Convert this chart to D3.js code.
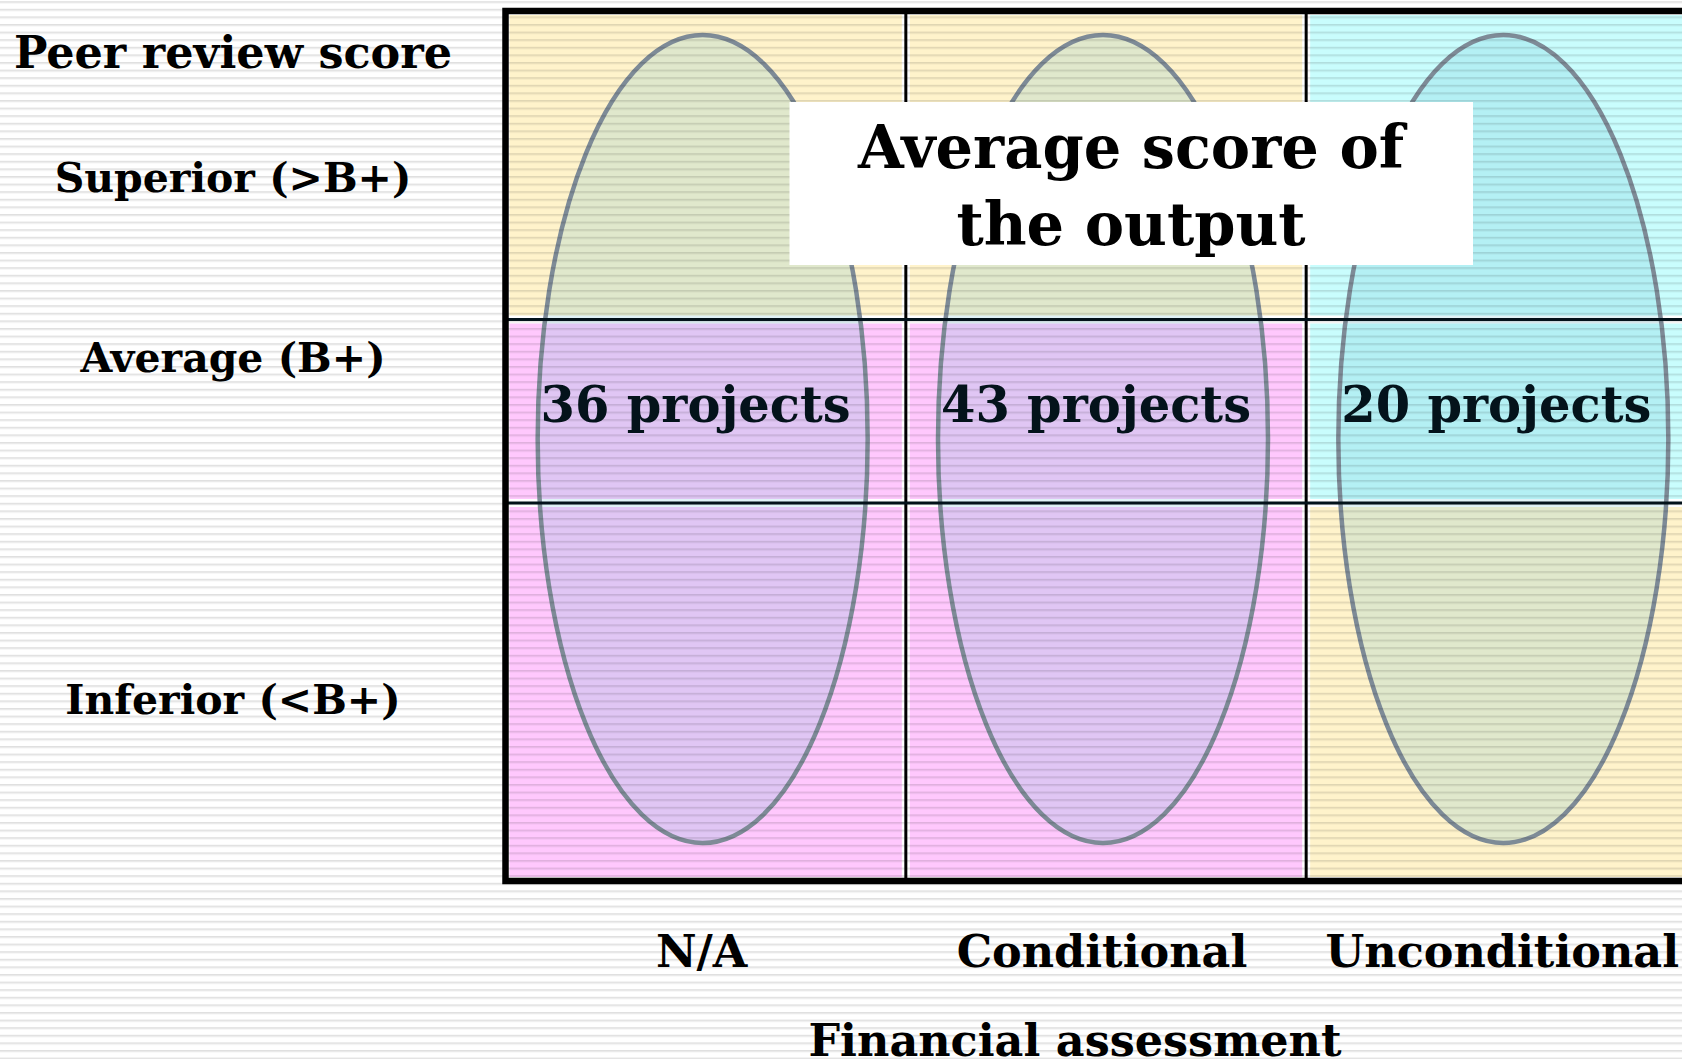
<!DOCTYPE html>
<html>
<head>
<meta charset="utf-8">
<script src="https://cdnjs.cloudflare.com/ajax/libs/d3/7.8.5/d3.min.js"></script>
<style>
  body { margin: 0; background: #fff; }
  text { font-family: "DejaVu Serif", serif; font-weight: bold; fill: #000; }
</style>
</head>
<body>
<div class="content"></div>
<script>
// --> data
const columns = ["N/A", "Conditional", "Unconditional"];
const rows = ["Superior (>B+)", "Average (B+)", "Inferior (<B+)"];
const projectCounts = [36, 43, 20];
const yTitle = "Peer review score";
const xTitle = "Financial assessment";
const boxTitle = ["Average score of", "the output"];

// --> styles (row by column)
const cellTone = [
  ["yellow", "yellow", "cyan"],
  ["pink", "pink", "cyan"],
  ["pink", "pink", "yellow"],
];
const tones = { yellow: "#fff3cb", pink: "#ffc8fd", cyan: "#c9fdfd" };

const width = 1682;
const height = 1059;

// grid layout
const rowEdges = [11, 319.5, 503, 881];

const xScale = d3.scaleBand().domain(columns).range([505.5, 1706.5]);
const yTop = d3.scaleOrdinal().domain(rows).range(rowEdges.slice(0, -1));
const yBottom = d3.scaleOrdinal().domain(rows).range(rowEdges.slice(1));
const colMid = d => xScale(d) + xScale.bandwidth() / 2;

const svg = d3
  .select(".content")
  .append("svg")
  .attr("width", width)
  .attr("height", height);

//--> stripe pattern
const defs = svg.append("defs");
const stripes = defs
  .append("pattern")
  .attr("id", "stripes")
  .attr("patternUnits", "userSpaceOnUse")
  .attr("y", 1.2)
  .attr("width", 20)
  .attr("height", 7.6);
stripes
  .append("rect")
  .attr("width", 20)
  .attr("height", 1.4)
  .attr("fill", "rgba(0,0,0,0.12)");
stripes
  .append("rect")
  .attr("y", 1.4)
  .attr("width", 20)
  .attr("height", 1)
  .attr("fill", "rgba(0,0,0,0.05)");

//--> cells
const cells = [];
rows.forEach((r, i) =>
  columns.forEach((c, j) => cells.push({ row: r, col: c, tone: cellTone[i][j] }))
);

const inset = 4;
svg
  .append("g")
  .selectAll("rect")
  .data(cells)
  .join("rect")
  .attr("x", d => xScale(d.col) + inset)
  .attr("y", d => yTop(d.row) + inset)
  .attr("width", xScale.bandwidth() - inset * 2)
  .attr("height", d => yBottom(d.row) - yTop(d.row) - inset * 2)
  .attr("fill", d => tones[d.tone]);

//--> ellipses
const ellipseCy = 439;
const ellipseRy = 404;
const ellipseRx = 165;

svg
  .append("g")
  .selectAll("ellipse")
  .data(columns)
  .join("ellipse")
  .attr("cx", d => colMid(d) - 3)
  .attr("cy", ellipseCy)
  .attr("rx", ellipseRx)
  .attr("ry", ellipseRy)
  .attr("fill", "rgba(100,190,212,0.2)")
  .attr("stroke", "#7e8b97")
  .attr("stroke-width", 4.5);

//--> stripes over everything
svg
  .append("rect")
  .attr("width", width)
  .attr("height", height)
  .attr("fill", "url(#stripes)");

//--> grid lines
const grid = svg.append("g").attr("stroke", "#000");
grid
  .selectAll("line.v")
  .data(columns.slice(1))
  .join("line")
  .attr("class", "v")
  .attr("x1", d => xScale(d))
  .attr("x2", d => xScale(d))
  .attr("y1", rowEdges[0])
  .attr("y2", rowEdges[3])
  .attr("stroke-width", 3);
grid
  .selectAll("line.h")
  .data(rows.slice(1))
  .join("line")
  .attr("class", "h")
  .attr("x1", xScale.range()[0])
  .attr("x2", xScale.range()[1])
  .attr("y1", d => yTop(d))
  .attr("y2", d => yTop(d))
  .attr("stroke", "#03121a")
  .attr("stroke-width", 3);
grid
  .append("rect")
  .attr("x", xScale.range()[0])
  .attr("y", rowEdges[0])
  .attr("width", xScale.range()[1] - xScale.range()[0])
  .attr("height", rowEdges[3] - rowEdges[0])
  .attr("fill", "none")
  .attr("stroke-width", 6.5);

//--> project counts
svg
  .append("g")
  .selectAll("text")
  .data(projectCounts)
  .join("text")
  .attr("x", (d, i) => colMid(columns[i]) - 10)
  .attr("y", 422)
  .attr("text-anchor", "middle")
  .style("font-size", "49.5px")
  .style("fill", "#04131b")
  .text(d => `${d} projects`);

//--> title box
svg
  .append("rect")
  .attr("x", 789.5)
  .attr("y", 102)
  .attr("width", 683.5)
  .attr("height", 163)
  .attr("fill", "#fff");

svg
  .append("g")
  .selectAll("text")
  .data(boxTitle)
  .join("text")
  .attr("x", 1131)
  .attr("y", (d, i) => 168 + i * 77)
  .attr("text-anchor", "middle")
  .style("font-size", "59px")
  .text(d => d);

//--> Y axis labels
const labelBaselines = [191.5, 372, 714];
svg
  .append("text")
  .attr("x", 233)
  .attr("y", 68)
  .attr("text-anchor", "middle")
  .style("font-size", "44.5px")
  .text(yTitle);

svg
  .append("g")
  .selectAll("text")
  .data(rows)
  .join("text")
  .attr("x", 233)
  .attr("y", (d, i) => labelBaselines[i])
  .attr("text-anchor", "middle")
  .style("font-size", "41px")
  .text(d => d);

//--> X axis labels
svg
  .append("g")
  .selectAll("text")
  .data(columns)
  .join("text")
  .attr("x", d => colMid(d) - 4)
  .attr("y", 967)
  .attr("text-anchor", "middle")
  .style("font-size", "44.5px")
  .text(d => d);

svg
  .append("text")
  .attr("x", 1075)
  .attr("y", 1056)
  .attr("text-anchor", "middle")
  .style("font-size", "44.5px")
  .text(xTitle);
</script>
</body>
</html>
